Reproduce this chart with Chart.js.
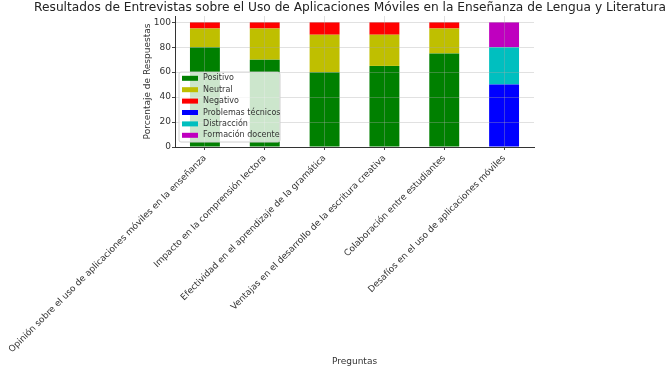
<!DOCTYPE html>
<html>
<head>
<meta charset="utf-8">
<script src="https://cdn.jsdelivr.net/npm/chart.js@4.4.0/dist/chart.umd.min.js"></script>
<style>
  html, body { margin: 0; background: #fff; }
</style>
</head>
<body>
<canvas id="c" width="671" height="370"></canvas>
<script>
const preguntas = [
  'Opinión sobre el uso de aplicaciones móviles en la enseñanza',
  'Impacto en la comprensión lectora',
  'Efectividad en el aprendizaje de la gramática',
  'Ventajas en el desarrollo de la escritura creativa',
  'Colaboración entre estudiantes',
  'Desafíos en el uso de aplicaciones móviles'
]
const positivo          = [80, 70, 60, 65, 75, null]
const neutral           = [15, 25, 30, 25, 20, null]
const negativo          = [ 5,  5, 10, 10,  5, null]
const problemasTecnicos = [null, null, null, null, null, 50]
const distraccion       = [null, null, null, null, null, 30]
const formacionDocente  = [null, null, null, null, null, 20]
const yTicks = [0, 20, 40, 60, 80, 100]

const FONT = 'DejaVu Sans'
const TXT  = '#333'
const GRID = 'rgba(170,170,170,0.35)'

// title centred on the axes, like matplotlib does
const titlePlugin = {
  id: 'axTitle',
  afterDraw(chart) {
    const { ctx } = chart
    ctx.save()
    ctx.font = `12.2px "${FONT}"`
    ctx.fillStyle = '#222'
    ctx.textAlign = 'center'
    ctx.textBaseline = 'middle'
    ctx.fillText('Resultados de Entrevistas sobre el Uso de Aplicaciones Móviles en la Enseñanza de Lengua y Literatura', 350, 8)
    ctx.restore()
  }
}

// legend drawn inside the plot, lower left
const innerLegend = {
  id: 'innerLegend',
  afterDraw(chart) {
    const { ctx, chartArea } = chart
    const sets = chart.data.datasets
    const x = chartArea.left + 4, rowH = 11.4
    const h = sets.length * rowH + 1.5
    const y = chartArea.bottom - 5 - h
    const w = 101
    ctx.save()
    ctx.beginPath()
    ctx.roundRect(x, y, w, h, 2)
    ctx.fillStyle = 'rgba(255,255,255,0.8)'
    ctx.fill()
    ctx.strokeStyle = '#d0d0d0'
    ctx.lineWidth = 1
    ctx.stroke()
    ctx.font = `8px "${FONT}"`
    ctx.textBaseline = 'middle'
    sets.forEach((ds, i) => {
      const cy = y + 6.2 + i * rowH
      ctx.fillStyle = ds.backgroundColor
      ctx.fillRect(x + 3, cy - 2.5, 16, 5)
      ctx.fillStyle = TXT
      ctx.fillText(ds.label, x + 24, cy)
    })
    ctx.restore()
  }
}

new Chart(document.getElementById('c'), {
  type: 'bar',
  data: {
    labels: preguntas,
    datasets: [
      { label: 'Positivo',           data: positivo,          backgroundColor: '#008000' },
      { label: 'Neutral',            data: neutral,           backgroundColor: '#bfbf00' },
      { label: 'Negativo',           data: negativo,          backgroundColor: '#ff0000' },
      { label: 'Problemas técnicos', data: problemasTecnicos, backgroundColor: '#0000ff' },
      { label: 'Distracción',        data: distraccion,       backgroundColor: '#00bfbf' },
      { label: 'Formación docente',  data: formacionDocente,  backgroundColor: '#bf00bf' },
    ]
  },
  options: {
    responsive: false,
    animation: false,
    devicePixelRatio: 1,
    barPercentage: 0.5,
    categoryPercentage: 1,
    layout: { padding: { top: 16, right: 137, left: 141, bottom: 0 } },
    plugins: {
      legend: { display: false },
      tooltip: { enabled: false },
    },
    scales: {
      x: {
        stacked: true,
        grid: { offset: false, color: GRID, z: 1, tickLength: 3, tickColor: '#444' },
        border: { color: '#333', width: 1, z: 2 },
        ticks: {
          autoSkip: false, minRotation: 45, maxRotation: 45, padding: 3,
          color: TXT, font: { family: FONT, size: 8.9 },
        },
        title: {
          display: true, text: 'Preguntas', color: TXT,
          font: { family: FONT, size: 9 }, padding: { top: 2, bottom: 3 },
        },
        afterFit: s => {
          s.height = 223
          // let the long rotated labels hang into the left margin
          s.paddingLeft = 0
          s.paddingRight = 0
        },
      },
      y: {
        stacked: true,
        min: 0,
        max: 105,
        afterBuildTicks: s => { s.ticks = yTicks.map(v => ({ value: v })) },
        grid: { color: GRID, z: 1, tickLength: 3, tickColor: '#444' },
        border: { color: '#333', width: 1, z: 2 },
        ticks: { padding: 1, color: TXT, font: { family: FONT, size: 9 } },
        title: {
          display: true, text: 'Porcentaje de Respuestas', color: TXT,
          font: { family: FONT, size: 9 }, padding: { top: 1, bottom: 2 },
        },
        afterFit: s => { s.width = 34 },
      },
    },
  },
  plugins: [titlePlugin, innerLegend],
})
</script>
</body>
</html>
